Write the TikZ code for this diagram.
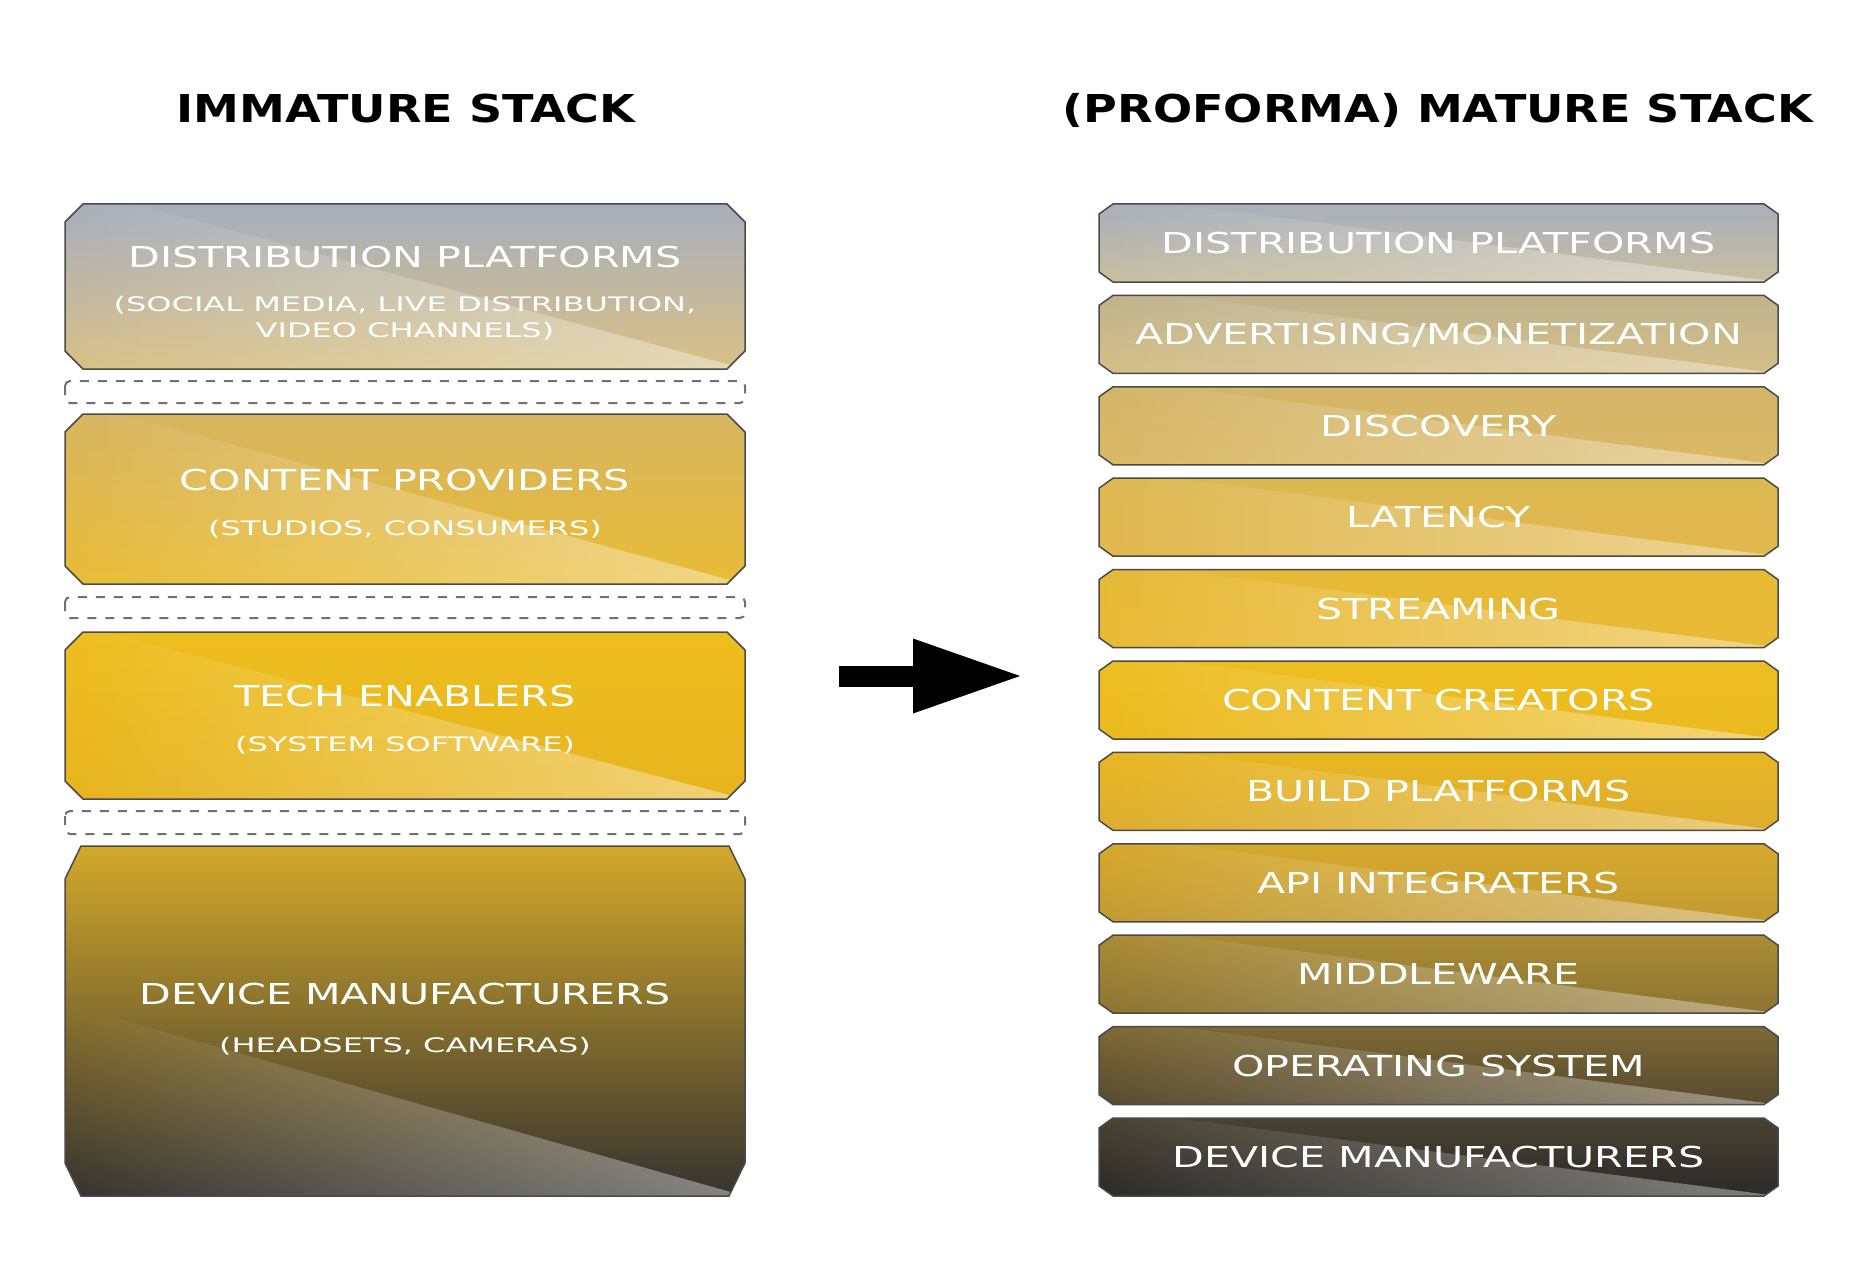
\documentclass[tikz,border=0pt]{standalone}
\usepackage{fontspec}
\newfontfamily\boxfont[FakeStretch=1.43]{DejaVu Sans}
\newfontfamily\subfont[FakeStretch=1.6]{DejaVu Sans}
\newfontfamily\headfont[FakeStretch=1.2]{DejaVu Sans}
\usetikzlibrary{fadings,arrows.meta}

\definecolor{edge}{HTML}{4A4A4A}
\definecolor{dashc}{HTML}{707070}
% left stack
\definecolor{LaT}{HTML}{A7AEBC}\definecolor{LaB}{HTML}{D9C185}
\definecolor{LbT}{HTML}{D8B560}\definecolor{LbB}{HTML}{E8BC35}
\definecolor{LcT}{HTML}{EEBE1E}\definecolor{LcB}{HTML}{E7B41E}
\definecolor{LdT}{HTML}{D3A92B}\definecolor{LdB}{HTML}{35332F}
% right stack
\definecolor{R1T}{HTML}{A8AFBB}\definecolor{R1B}{HTML}{C9BFA0}
\definecolor{R2T}{HTML}{BFB38E}\definecolor{R2B}{HTML}{D5BF86}
\definecolor{R3T}{HTML}{D4B66A}\definecolor{R3B}{HTML}{DAB865}
\definecolor{R4T}{HTML}{DDB852}\definecolor{R4B}{HTML}{E2B84C}
\definecolor{R5T}{HTML}{E6BA36}\definecolor{R5B}{HTML}{E9BA35}
\definecolor{R6T}{HTML}{EDBE22}\definecolor{R6B}{HTML}{ECBA1E}
\definecolor{R7T}{HTML}{E9B622}\definecolor{R7B}{HTML}{DCAD2E}
\definecolor{R8T}{HTML}{D6A92C}\definecolor{R8B}{HTML}{C29A32}
\definecolor{R9T}{HTML}{AA8C35}\definecolor{R9B}{HTML}{8C7432}
\definecolor{R10T}{HTML}{7D6934}\definecolor{R10B}{HTML}{574A30}
\definecolor{R11T}{HTML}{4A4232}\definecolor{R11B}{HTML}{2B2A28}

\tikzfading[name=hlfade, left color=transparent!100, right color=transparent!60]

% #1 x0, #2 y0, #3 x1, #4 y1, #5 top colour, #6 bottom colour, #7 hx, #8 hy
\newcommand\stacklayer[8]{%
  \path[top color=#5, bottom color=#6]
    (#1+\cdx,#2) -- (#3-\cdx,#2) -- (#3,#2+\cdy) -- (#3,#4-\cdy) -- (#3-\cdx,#4)
    -- (#1+\cdx,#4) -- (#1,#4-\cdy) -- (#1,#2+\cdy) -- cycle;
  \begin{scope}
    \clip (#1+\cdx,#2) -- (#3-\cdx,#2) -- (#3,#2+\cdy) -- (#3,#4-\cdy) -- (#3-\cdx,#4)
    -- (#1+\cdx,#4) -- (#1,#4-\cdy) -- (#1,#2+\cdy) -- cycle;
    \fill[white, path fading=hlfade] (#1,#8) -- (#7,#8) -- (#3,#4) -- (#1,#4) -- cycle;
  \end{scope}
  \draw[boxedge]
    (#1+\cdx,#2) -- (#3-\cdx,#2) -- (#3,#2+\cdy) -- (#3,#4-\cdy) -- (#3-\cdx,#4)
    -- (#1+\cdx,#4) -- (#1,#4-\cdy) -- (#1,#2+\cdy) -- cycle;
}

\begin{document}
\begin{tikzpicture}[x=1pt,y=-1pt,
  boxedge/.style={draw=edge, line width=1.5pt, line join=miter},
  gapbox/.style={draw=dashc, line width=2pt, dash pattern=on 9pt off 9pt, rounded corners=5pt},
  head/.style={anchor=base, inner sep=0pt, text=black, font=\headfont\bfseries\fontsize{38.4}{40}\selectfont},
  lbl/.style={anchor=base, inner sep=0pt, text=white, font=\boxfont\fontsize{28.8}{30}\selectfont},
  sublbl/.style={anchor=base, inner sep=0pt, text=white, font=\subfont\fontsize{20}{22}\selectfont}]
\fill[white] (0,0) rectangle (1860,1268);
\useasboundingbox (0,0) rectangle (1860,1268);

% titles
\node[head] (titleL) at (406,123) {IMMATURE STACK};
\node[head] (titleR) at (1438,123) {(PROFORMA) MATURE STACK};

% ---------- left (immature) stack ----------
\def\cdx{18}\def\cdy{18}
\stacklayer{65}{204}{745}{369}{LaT}{LaB}{135}{204}
\stacklayer{65}{414}{745}{584}{LbT}{LbB}{120}{414}
\stacklayer{65}{632}{745}{799}{LcT}{LcB}{105}{632}
\def\cdx{16}\def\cdy{33}
\stacklayer{65}{846}{745}{1196}{LdT}{LdB}{65}{1004}

\draw[gapbox] (65,381) rectangle (745,403);
\draw[gapbox] (65,597) rectangle (745,618);
\draw[gapbox] (65,811) rectangle (745,834);

\node[lbl] (distL) at (405,267) {DISTRIBUTION PLATFORMS};
\node[sublbl] (distLs1) at (405,311) {(SOCIAL MEDIA, LIVE DISTRIBUTION,};
\node[sublbl] (distLs2) at (405,337) {VIDEO CHANNELS)};
\node[lbl] (contL) at (405,490) {CONTENT PROVIDERS};
\node[sublbl] (contLs) at (405,535) {(STUDIOS, CONSUMERS)};
\node[lbl] (techL) at (405,706) {TECH ENABLERS};
\node[sublbl] (techLs) at (405,751) {(SYSTEM SOFTWARE)};
\node[lbl] (devL) at (405,1004) {DEVICE MANUFACTURERS};
\node[sublbl] (devLs) at (405,1052) {(HEADSETS, CAMERAS)};

% ---------- arrow ----------
\coordinate (arrS) at (839,676);
\coordinate (arrE) at (1020,676);
\draw[line width=21pt, -{Triangle[length=107pt,width=75pt,line width=0pt]}] (arrS) -- (arrE);

% ---------- right (mature) stack ----------
\def\cdx{14}\def\cdy{10}
\foreach \i/\txt in {1/{DISTRIBUTION PLATFORMS}, 2/{ADVERTISING/MONETIZATION}, 3/{DISCOVERY},
  4/{LATENCY}, 5/{STREAMING}, 6/{CONTENT CREATORS}, 7/{BUILD PLATFORMS}, 8/{API INTEGRATERS},
  9/{MIDDLEWARE}, 10/{OPERATING SYSTEM}, 11/{DEVICE MANUFACTURERS}}{
  \pgfmathsetmacro\ytop{204+91.4*(\i-1)}
  \pgfmathsetmacro\ybot{\ytop+78}
  \pgfmathsetmacro\ybase{\ytop+39+10.5}
  \stacklayer{1099}{\ytop}{1778}{\ybot}{R\i T}{R\i B}{1175}{\ytop}
  \node[lbl] (R\i) at (1438.5,\ybase) {\txt};
}
\end{tikzpicture}
\end{document}
